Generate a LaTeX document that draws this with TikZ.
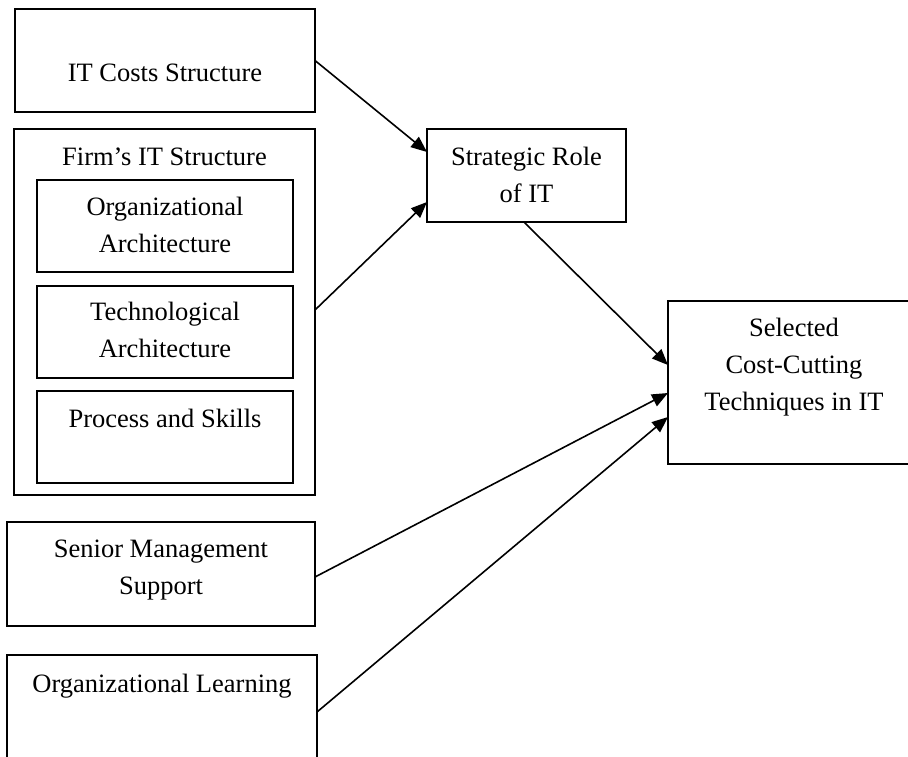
\documentclass[tikz,border=0pt]{standalone}
\usepackage{fontspec}
\setmainfont{Liberation Serif}
\usetikzlibrary{calc,arrows.meta}
\begin{document}
\begin{tikzpicture}[x=1pt,y=-1pt,
  box/.style={draw=black,line width=1.8pt,inner sep=0pt,outer sep=0pt,rectangle},
  txt/.style={inner sep=0pt,anchor=base,align=center,font=\fontsize{26.5}{36.7}\selectfont},
  conn/.style={line width=1.6pt,-{Triangle[length=16pt,width=13pt]}}]
\clip (0,0) rectangle (908,756);
\fill[white] (0,0) rectangle (908,756);
% boxes
\node[box,minimum width=300,minimum height=103] (itc) at (165,60.5) {};
\node[box,minimum width=301,minimum height=366] (firm) at (164.5,312) {};
\node[box,minimum width=256,minimum height=92] (org) at (165,226) {};
\node[box,minimum width=256,minimum height=92] (tech) at (165,332) {};
\node[box,minimum width=256,minimum height=92] (proc) at (165,437) {};
\node[box,minimum width=308,minimum height=104] (senior) at (161,574) {};
\node[box,minimum width=310,minimum height=115] (learn) at (162,712.5) {};
\node[box,minimum width=199,minimum height=93] (strat) at (526.5,175.5) {};
\node[box,minimum width=252,minimum height=163] (sel) at (794,382.5) {};
% texts (base = baseline of the last line)
\node[txt] (itcT) at (165,81) {IT Costs Structure};
\node[txt] (firmT) at (164.5,165) {Firm’s IT Structure};
\node[txt] (orgT) at (165,252) {Organizational\\Architecture};
\node[txt] (techT) at (165,357) {Technological\\Architecture};
\node[txt] (procT) at (165,427) {Process and Skills};
\node[txt] (seniorT) at (161,594) {Senior Management\\Support};
\node[txt] (learnT) at (162,692) {Organizational Learning};
\node[txt] (stratT) at (526.5,202) {Strategic Role\\of IT};
\node[txt] (selT) at (794,410) {Selected\\Cost-Cutting\\Techniques in IT};
% connectors
\draw[conn] (itc.east) -- ($(strat.west)+(0,-23.5)$);
\draw[conn] ($(firm.east)+(0,-2)$) -- ($(strat.west)+(0,26.5)$);
\draw[conn] ($(strat.south)+(-2.5,0)$) -- ($(sel.west)+(0,-17.5)$);
\draw[conn] ($(senior.east)+(0,3)$) -- ($(sel.west)+(0,10.5)$);
\draw[conn] ($(learn.east)+(0,-0.5)$) -- ($(sel.west)+(0,34.5)$);
\end{tikzpicture}
\end{document}
